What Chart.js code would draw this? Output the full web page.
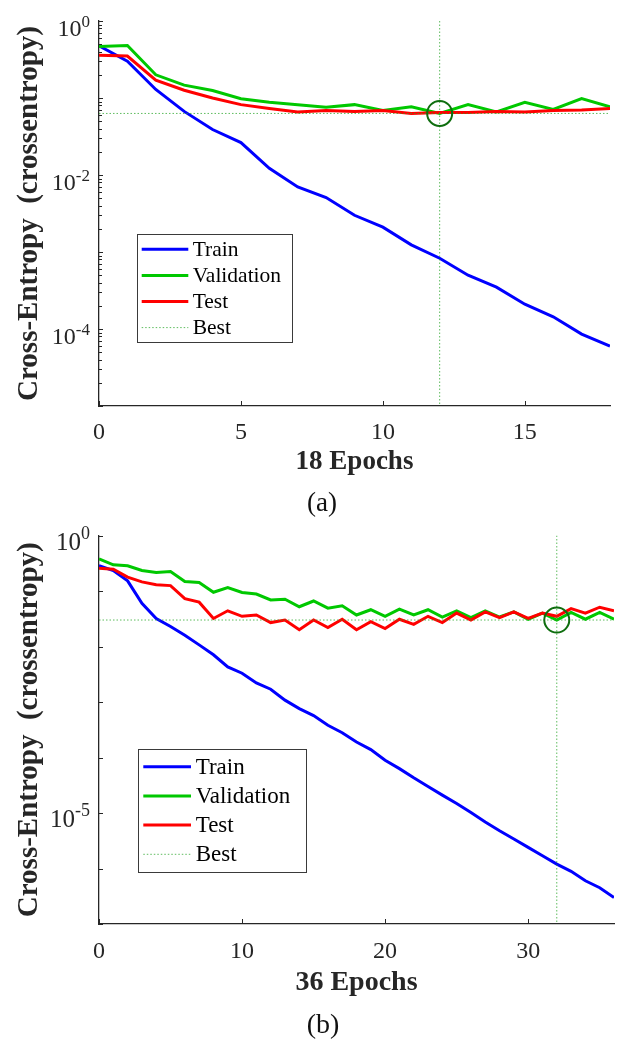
<!DOCTYPE html>
<html><head><meta charset="utf-8">
<script src="https://cdn.jsdelivr.net/npm/chart.js@4.4.1/dist/chart.umd.min.js"></script>
<style>
html,body{margin:0;padding:0;background:#fff;}
#wrap{position:relative;width:617px;height:1040px;overflow:hidden;}
canvas{position:absolute;left:0;}
</style></head><body>
<div id="wrap">
<canvas id="cA" width="617" height="540" style="top:0;width:617px;height:540px"></canvas>
<canvas id="cB" width="617" height="528" style="top:512px;width:617px;height:528px"></canvas>
</div>
<script>
// ---------- DATA (a) ----------
const epochsA = [0,1,2,3,4,5,6,7,8,9,10,11,12,13,14,15,16,17,18];
const trainA = [0.475,0.30,0.129,0.067,0.039,0.0264,0.0122,0.0070,0.0051,0.0030,0.0021,0.00124,0.00083,0.00050,0.00035,0.00021,0.000144,0.000086,0.000060];
const validA = [0.467,0.48,0.20,0.147,0.125,0.098,0.088,0.082,0.076,0.082,0.069,0.077,0.063,0.082,0.066,0.088,0.071,0.098,0.077];
const testA  = [0.36,0.35,0.171,0.126,0.10,0.082,0.073,0.066,0.069,0.067,0.069,0.063,0.065,0.065,0.067,0.066,0.069,0.070,0.073];
const bestEpochA = 12;
const bestA = 0.063;
const xTicksA = [0,5,10,15];
const yLabelExpA = [0,-2,-4];
const xTitleA = '18 Epochs';
const captionA = '(a)';

// ---------- DATA (b) ----------
const epochsB = [0,1,2,3,4,5,6,7,8,9,10,11,12,13,14,15,16,17,18,19,20,21,22,23,24,25,26,27,28,29,30,31,32,33,34,35,36];
const trainB = [0.287,0.234,0.152,0.060,0.032,0.023,0.016,0.0107,0.0071,0.0043,0.0033,0.0022,0.0017,0.00108,0.00076,0.00057,0.00038,0.00028,0.00019,0.000139,0.000089,0.000063,0.000043,0.000030,0.000021,0.0000148,0.0000102,0.0000069,0.0000048,0.0000034,0.0000024,0.0000017,0.0000012,0.00000089,0.00000060,0.00000045,0.00000030];
const validB = [0.38,0.296,0.284,0.234,0.215,0.224,0.148,0.142,0.095,0.115,0.094,0.088,0.069,0.071,0.052,0.066,0.049,0.054,0.037,0.046,0.035,0.047,0.037,0.046,0.034,0.044,0.033,0.044,0.034,0.042,0.031,0.040,0.030,0.041,0.031,0.041,0.031];
const testB  = [0.258,0.247,0.178,0.146,0.13,0.125,0.073,0.063,0.032,0.044,0.035,0.037,0.027,0.030,0.020,0.030,0.022,0.031,0.020,0.028,0.021,0.031,0.025,0.035,0.027,0.040,0.030,0.042,0.033,0.042,0.032,0.040,0.035,0.048,0.040,0.051,0.044];
const bestEpochB = 32;
const bestB = 0.030;
const xTicksB = [0,10,20,30];
const yLabelExpB = [0,-5];
const xTitleB = '36 Epochs';
const captionB = '(b)';

const seriesNames = ['Train','Validation','Test','Best'];
const yTitle = 'Cross-Entropy  (crossentropy)';

// ---------- STYLE ----------
const FONT = "'Liberation Serif','Times New Roman',serif";
const AXIS = '#262626';
const C_TRAIN = '#0000ff', C_VAL = '#00c800', C_TEST = '#ff0000';
const C_BEST = 'rgba(40,165,40,0.75)', C_CIRCLE = 'rgb(15,110,15)';

const matlabPlugin = {
  id: 'matlab',
  afterDatasetsDraw(chart, args, o) {
    const {ctx, chartArea: ca, scales: {x, y}} = chart;
    ctx.save();
    ctx.strokeStyle = AXIS; ctx.lineWidth = 1;
    // x ticks (inward)
    o.xTicks.forEach(v => {
      const px = Math.round(x.getPixelForValue(v)) + 0.5;
      ctx.beginPath(); ctx.moveTo(px, ca.bottom); ctx.lineTo(px, ca.bottom - o.xTickLen); ctx.stroke();
    });
    // y ticks
    for (let d = o.yMinExp; d <= o.yMaxExp; d++) {
      const py = Math.round(y.getPixelForValue(Math.pow(10, d))) + 0.5;
      ctx.beginPath(); ctx.moveTo(ca.left, py); ctx.lineTo(ca.left + o.yTickLen, py); ctx.stroke();
      if (o.minor && d < o.yMaxExp) {
        for (let k = 2; k <= 9; k++) {
          const pm = Math.round(y.getPixelForValue(k * Math.pow(10, d))) + 0.5;
          ctx.beginPath(); ctx.moveTo(ca.left, pm); ctx.lineTo(ca.left + o.yMinorLen, pm); ctx.stroke();
        }
      }
    }
    // y tick labels 10^e
    ctx.fillStyle = AXIS;
    ctx.textBaseline = 'alphabetic';
    o.yLabels.forEach(e => {
      const py = y.getPixelForValue(Math.pow(10, e));
      const sup = String(e);
      ctx.font = o.supSize + 'px ' + FONT;
      const ws = ctx.measureText(sup).width;
      ctx.textAlign = 'left';
      ctx.fillText(sup, o.labelRight - ws, py + o.baseOff - o.supRaise);
      ctx.font = o.mainSize + 'px ' + FONT;
      ctx.textAlign = 'right';
      ctx.fillText('10', o.labelRight - ws, py + o.baseOff);
    });
    // caption
    ctx.fillStyle = '#111';
    ctx.font = o.capSize + 'px ' + FONT;
    ctx.textAlign = 'center'; ctx.textBaseline = 'middle';
    ctx.fillText(o.caption, o.capX, o.capY);
    // legend
    const L = o.legend;
    ctx.fillStyle = '#ffffff';
    ctx.fillRect(L.x, L.y, L.w, L.h);
    ctx.strokeStyle = '#3a3a3a'; ctx.lineWidth = 1;
    ctx.strokeRect(Math.round(L.x) + 0.5, Math.round(L.y) + 0.5, Math.round(L.w), Math.round(L.h));
    [0, 1, 2, 3].forEach((di, i) => {
      const ds = chart.data.datasets[di];
      const cy = L.y + L.first + i * L.row;
      ctx.save();
      ctx.strokeStyle = ds.borderColor; ctx.lineWidth = ds.borderWidth;
      ctx.setLineDash(ds.borderDash || []);
      ctx.beginPath(); ctx.moveTo(L.lx1, cy); ctx.lineTo(L.lx2, cy); ctx.stroke();
      ctx.restore();
      ctx.fillStyle = '#000';
      ctx.font = L.font + 'px ' + FONT;
      ctx.textAlign = 'left'; ctx.textBaseline = 'middle';
      ctx.fillText(seriesNames[i], L.tx, cy + 1);
    });
    ctx.restore();
  }
};

function pts(xs, ys) { return xs.map((e, i) => ({x: e, y: ys[i]})); }

function build(id, p) {
  return new Chart(document.getElementById(id), {
    type: 'line',
    data: { datasets: [
      {label: seriesNames[0], data: pts(p.epochs, p.train), borderColor: C_TRAIN, borderWidth: 3, pointRadius: 0, order: 5},
      {label: seriesNames[1], data: pts(p.epochs, p.valid), borderColor: C_VAL, borderWidth: 3, pointRadius: 0, order: 4},
      {label: seriesNames[2], data: pts(p.epochs, p.test), borderColor: C_TEST, borderWidth: 3, pointRadius: 0, order: 3},
      {label: seriesNames[3], data: [{x: 0, y: p.best}, {x: p.xMax, y: p.best}], borderColor: C_BEST, borderWidth: 1, borderDash: [1.5, 2], pointRadius: 0, order: 2},
      {label: 'bestV', data: [{x: p.bestEpoch, y: p.yMax}, {x: p.bestEpoch, y: p.yMin}], borderColor: C_BEST, borderWidth: 1, borderDash: [1.5, 2], pointRadius: 0, order: 2},
      {label: 'bestPt', data: [{x: p.bestEpoch, y: p.best}], showLine: false, pointRadius: 12.5, pointHoverRadius: 12.5,
        pointBorderColor: C_CIRCLE, pointBorderWidth: 2, pointBackgroundColor: 'rgba(0,0,0,0)', order: 1}
    ]},
    options: {
      responsive: false, animation: false, events: [],
      layout: {autoPadding: false, padding: {top: p.padTop, right: p.padRight, left: 0, bottom: 0}},
      scales: {
        x: {
          type: 'linear', min: 0, max: p.xMax,
          afterBuildTicks: s => { s.ticks = p.xTicks.map(v => ({value: v})); },
          afterFit: s => { s.height = p.xAxisH; s.paddingLeft = 0; s.paddingRight = 0; },
          grid: {display: false, drawTicks: false},
          border: {display: true, color: AXIS, width: 1.3},
          ticks: {color: AXIS, font: {family: FONT, size: p.xTickSize}, padding: p.xTickPad, maxRotation: 0, autoSkip: false},
          title: {display: true, text: p.xTitle, color: AXIS, font: {family: FONT, size: p.xTitleSize, weight: 'bold'}, padding: {top: 0, bottom: p.xTitlePadB}}
        },
        y: {
          type: 'logarithmic', min: p.yMin, max: p.yMax,
          afterBuildTicks: s => { s.ticks = p.yLabels.map(e => ({value: Math.pow(10, e)})); },
          afterFit: s => { s.width = 99; s.paddingTop = 0; s.paddingBottom = 0; },
          grid: {display: false, drawTicks: false},
          border: {display: true, color: AXIS, width: 1.3},
          ticks: {display: false},
          title: {display: true, text: yTitle, color: AXIS, font: {family: FONT, size: 29, weight: 'bold'}, padding: {top: 12, bottom: 0}}
        }
      },
      plugins: {
        legend: {display: false}, tooltip: {enabled: false}, title: {display: false},
        matlab: p.axisOpts
      }
    },
    plugins: [matlabPlugin]
  });
}

build('cA', {
  epochs: epochsA, train: trainA, valid: validA, test: testA, best: bestA, bestEpoch: bestEpochA,
  xMax: 18, yMin: 1e-5, yMax: 1, xTicks: xTicksA, yLabels: yLabelExpA, xTitle: xTitleA,
  padTop: 21, padRight: 7, xAxisH: 134, xTickSize: 24, xTickPad: 12, xTitleSize: 27, xTitlePadB: 61.8,
  axisOpts: {xTicks: xTicksA, xTickLen: 5, yTickLen: 4, yMinorLen: 3, minor: true, yMinExp: -5, yMaxExp: 0,
    yLabels: yLabelExpA, labelRight: 90, mainSize: 24, supSize: 17, baseOff: 15, supRaise: 9,
    caption: captionA, capX: 322, capY: 504, capSize: 27,
    legend: {x: 137, y: 234, w: 155, h: 108, first: 15.3, row: 26.1, lx1: 141.7, lx2: 188.3, tx: 192.7, font: 21.5}}
});

build('cB', {
  epochs: epochsB, train: trainB, valid: validB, test: testB, best: bestB, bestEpoch: bestEpochB,
  xMax: 36, yMin: 1e-7, yMax: 1, xTicks: xTicksB, yLabels: yLabelExpB, xTitle: xTitleB,
  padTop: 23.5, padRight: 3, xAxisH: 116, xTickSize: 24, xTickPad: 13.6, xTitleSize: 28, xTitlePadB: 40.2,
  axisOpts: {xTicks: xTicksB, xTickLen: 5, yTickLen: 4, yMinorLen: 3, minor: false, yMinExp: -7, yMaxExp: 0,
    yLabels: yLabelExpB, labelRight: 90, mainSize: 25, supSize: 18, baseOff: 14, supRaise: 11,
    caption: captionB, capX: 323, capY: 514, capSize: 28,
    legend: {x: 138.3, y: 237, w: 167.7, h: 123.3, first: 17.7, row: 29.2, lx1: 143.3, lx2: 191, tx: 195.7, font: 23}}
});
</script>
</body></html>
